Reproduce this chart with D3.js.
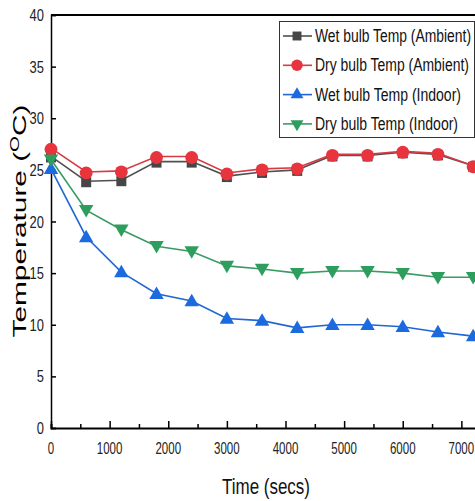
<!DOCTYPE html>
<html>
<head>
<meta charset="utf-8">
<script src="https://cdn.jsdelivr.net/npm/d3@7"></script>
<style>
  body { margin: 0; background: #fff; }
  text { font-family: "Liberation Sans Narrow", "Liberation Sans", Arial, sans-serif; }
</style>
</head>
<body>
<div id="chart"></div>
<script>
// data
const times = [0, 600, 1200, 1800, 2400, 3000, 3600, 4200, 4800, 5400, 6000, 6600, 7200];
const wetAmbient = [26.3, 23.9, 24.0, 25.8, 25.8, 24.4, 24.8, 25.0, 26.4, 26.4, 26.7, 26.5, 25.4];
const dryAmbient = [27.1, 24.8, 24.9, 26.3, 26.3, 24.7, 25.1, 25.2, 26.5, 26.5, 26.8, 26.6, 25.4];
const wetIndoor = [25.1, 18.5, 15.1, 13.0, 12.3, 10.6, 10.4, 9.7, 10.0, 10.0, 9.8, 9.3, 8.9];
const dryIndoor = [26.0, 21.1, 19.2, 17.6, 17.1, 15.7, 15.4, 15.0, 15.2, 15.2, 15.0, 14.6, 14.6];
const seriesNames = ['Wet bulb Temp (Ambient)', 'Dry bulb Temp (Ambient)', 'Wet bulb Temp (Indoor)', 'Dry bulb Temp (Indoor)'];
const yTicks = [0, 5, 10, 15, 20, 25, 30, 35, 40];
const xTicks = [0, 1000, 2000, 3000, 4000, 5000, 6000, 7000];

const width = 475, height = 501;
const svg = d3.select('#chart').append('svg')
    .attr('width', width)
    .attr('height', height);

const x = d3.scaleLinear().domain([0, 8000]).range([51, 520]);
const y = d3.scaleLinear().domain([0, 40]).range([428, 15]);

const styles = [
    { color: '#464646', line: '#505050', shape: d3.symbolSquare, size: 100, rot: 0 },
    { color: '#e8353d', line: '#d83a44', shape: d3.symbolCircle, size: 130, rot: 0 },
    { color: '#1c6ae0', line: '#2166d4', shape: d3.symbolTriangle, size: 90, rot: 0 },
    { color: '#2e9e5e', line: '#3a9a62', shape: d3.symbolTriangle, size: 90, rot: 180 }
];
const series = [wetAmbient, dryAmbient, wetIndoor, dryIndoor];

// axes with inward ticks
svg.append('g')
    .attr('transform', `translate(0,${y(0)})`)
    .call(d3.axisBottom(x).tickValues(d3.range(0, 8001, 500)).tickSize(-4).tickFormat(''))
    .call(g => g.select('.domain').attr('stroke-width', 2))
    .call(g => g.selectAll('.tick line').attr('stroke-width', 1.5)
        .attr('y2', d => d % 1000 === 0 ? -7 : -4));

svg.append('g')
    .attr('transform', `translate(${x(0)},0)`)
    .call(d3.axisLeft(y).tickValues(yTicks).tickSize(-5).tickFormat(''))
    .call(g => g.select('.domain').attr('stroke-width', 1.5))
    .call(g => g.selectAll('.tick line').attr('stroke-width', 1.5));

svg.append('line')
    .attr('x1', x(0)).attr('x2', width)
    .attr('y1', y(40)).attr('y2', y(40))
    .attr('stroke', '#000').attr('stroke-width', 2);

// tick labels
svg.append('g').selectAll('text')
    .data(yTicks)
    .enter().append('text')
    .attr('x', 44)
    .attr('y', d => y(d) + 6)
    .attr('text-anchor', 'end')
    .attr('font-size', 17)
    .attr('textLength', d => String(d).length * 7.2)
    .attr('lengthAdjust', 'spacingAndGlyphs')
    .attr('fill', '#222')
    .text(d => d);

svg.append('g').selectAll('text')
    .data(xTicks)
    .enter().append('text')
    .attr('x', d => x(d))
    .attr('y', 454)
    .attr('text-anchor', 'middle')
    .attr('font-size', 17)
    .attr('textLength', d => String(d).length * 6.4)
    .attr('lengthAdjust', 'spacingAndGlyphs')
    .attr('fill', '#222')
    .text(d => d);

// axis titles
svg.append('text')
    .attr('transform', 'translate(26,221) rotate(-90)')
    .attr('text-anchor', 'middle')
    .attr('font-size', 19)
    .attr('textLength', 233)
    .attr('lengthAdjust', 'spacingAndGlyphs')
    .style('font-family', '"Liberation Sans", Arial, sans-serif')
    .html('Temperature (<tspan dy="-7" font-size="13">O</tspan><tspan dy="7">C)</tspan>');

svg.append('text')
    .attr('x', 266)
    .attr('y', 494)
    .attr('text-anchor', 'middle')
    .attr('font-size', 22)
    .attr('textLength', 88)
    .attr('lengthAdjust', 'spacingAndGlyphs')
    .attr('fill', '#111')
    .text('Time (secs)');

// lines and markers
const line = d3.line()
    .x((d, i) => x(times[i]))
    .y(d => y(d));

series.forEach((vals, k) => {
    const s = styles[k];
    svg.append('path')
        .datum(vals)
        .attr('d', line)
        .attr('fill', 'none')
        .attr('stroke', s.line)
        .attr('stroke-width', 1.6);
    svg.append('g').selectAll('path')
        .data(vals)
        .enter().append('path')
        .attr('d', d3.symbol().type(s.shape).size(s.size))
        .attr('transform', (d, i) => `translate(${x(times[i])},${y(d) + (s.rot ? -1 : 1)}) rotate(${s.rot})`)
        .attr('fill', s.color);
});

// legend
const legend = svg.append('g');
legend.append('rect')
    .attr('x', 279.5).attr('y', 21.5)
    .attr('width', 195).attr('height', 116)
    .attr('fill', '#fff')
    .attr('stroke', '#333')
    .attr('stroke-width', 1);

const labelWidths = [156, 154, 146, 143];
seriesNames.forEach((name, k) => {
    const s = styles[k];
    const ly = 36 + k * 29.3;
    legend.append('line')
        .attr('x1', 283).attr('x2', 312)
        .attr('y1', ly).attr('y2', ly)
        .attr('stroke', s.line).attr('stroke-width', 1.6);
    legend.append('path')
        .attr('d', d3.symbol().type(s.shape).size(s.size * 0.8))
        .attr('transform', `translate(297,${ly}) rotate(${s.rot})`)
        .attr('fill', s.color);
    legend.append('text')
        .attr('x', 315)
        .attr('y', ly + 6)
        .attr('font-size', 18)
        .attr('textLength', labelWidths[k])
        .attr('lengthAdjust', 'spacingAndGlyphs')
        .attr('fill', '#111')
        .text(name);
});
</script>
</body>
</html>
